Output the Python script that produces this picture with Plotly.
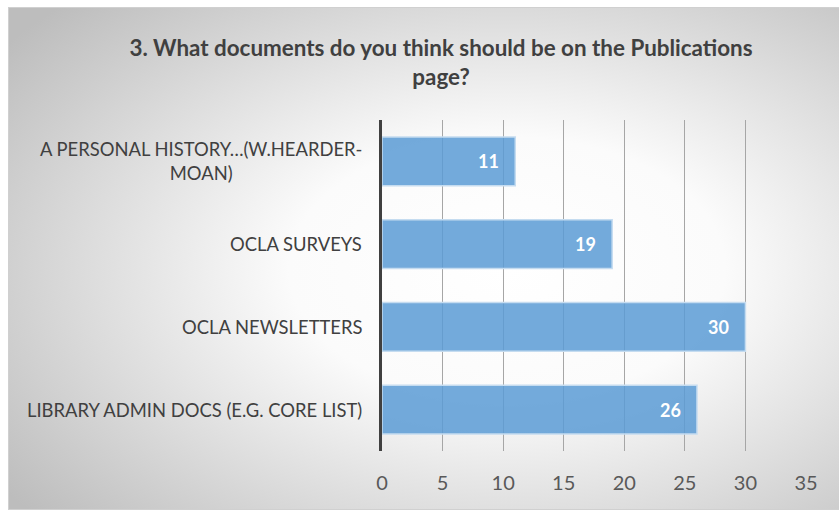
import base64
import plotly.graph_objects as go

categories = [
    "A PERSONAL HISTORY…(W.HEARDER-<br>MOAN)",
    "OCLA SURVEYS",
    "OCLA NEWSLETTERS",
    "LIBRARY ADMIN DOCS (E.G. CORE LIST)",
]
values = [11, 19, 30, 26]
x_ticks = [0, 5, 10, 15, 20, 25, 30, 35]
title_text = "3. What documents do you think should be on the Publications<br>page?"

W, H = 839, 511
L, R, T, B = 382, 33, 120, 60
PW = W - L - R
PH = H - T - B

svg = f'''<svg xmlns="http://www.w3.org/2000/svg" width="{W}" height="{H}" viewBox="0 0 {W} {H}">
<defs><radialGradient id="g" cx="0.6" cy="0.52" r="0.75">
<stop offset="0" stop-color="#ffffff"/>
<stop offset="0.35" stop-color="#fbfbfb"/>
<stop offset="1" stop-color="#bdbdbd"/>
</radialGradient></defs>
<rect x="8.5" y="7.5" width="{W-8}" height="{H-9}" fill="url(#g)" stroke="#d0d0d0" stroke-width="1"/>
</svg>'''
src = "data:image/svg+xml;base64," + base64.b64encode(svg.encode()).decode()

fig = go.Figure()
fig.add_trace(go.Bar(
    y=categories, x=values, orientation="h", width=0.59,
    marker=dict(color="rgba(91,155,213,0.85)", line=dict(color="#c5dcf0", width=1.5)),
    hoverinfo="skip",
))

annotations = []
for c, v in zip(categories, values):
    annotations.append(dict(
        x=v, y=c, xref="x", yref="y", text=f"<b>{v}</b>", showarrow=False,
        xanchor="right", xshift=-14, font=dict(family="Lato", size=18, color="white"),
    ))
    annotations.append(dict(
        x=(364 - L) / PW, y=c, xref="paper", yref="y", text=c, showarrow=False,
        xanchor="right", align="center", font=dict(family="Lato", size=18.4, color="#404040"),
    ))

fig.update_layout(
    width=W, height=H,
    margin=dict(l=L, r=R, t=T, b=B),
    paper_bgcolor="white",
    plot_bgcolor="rgba(0,0,0,0)",
    showlegend=False,
    title=dict(text=f"<b>{title_text}</b>", x=441 / W, xanchor="center",
               y=1 - 56 / H, yanchor="middle",
               font=dict(family="Lato", size=22.4, color="#404040")),
    xaxis=dict(range=[0, 35], tickvals=x_ticks, showgrid=True, gridcolor="#a6a6a6",
               gridwidth=1.3, zeroline=False, showline=False, ticks="",
               tickfont=dict(family="Lato", size=20, color="#595959"), ticklabelstandoff=18),
    yaxis=dict(autorange="reversed", showticklabels=False, showgrid=False, ticks="",
               showline=True, linecolor="#404040", linewidth=3, zeroline=False),
    annotations=annotations,
    images=[dict(source=src, xref="paper", yref="paper", x=-L / PW, y=(H - B) / PH,
                 sizex=W / PW, sizey=H / PH, xanchor="left", yanchor="top",
                 sizing="stretch", layer="below")],
)

fig.write_html("out.html")
